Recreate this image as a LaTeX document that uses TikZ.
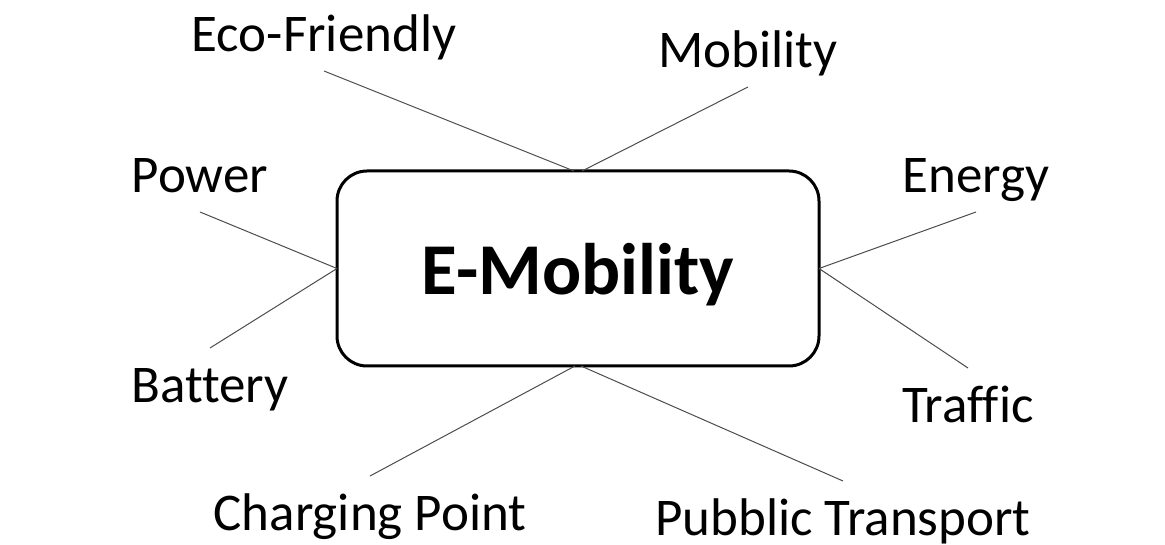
\documentclass[tikz,border=0pt]{standalone}
\usepackage{fontspec}
\setmainfont{Carlito}[RawFeature={-liga;-clig;-dlig}]
\begin{document}
\begin{tikzpicture}[x=1pt, y=-1pt,
  lbl/.style={anchor=base, inner sep=0, outer sep=0, text height=54pt, text depth=19pt, font=\fontsize{53}{53}\selectfont},
  hub/.style={draw, line width=3pt, rounded corners=30pt, minimum width=482pt, minimum height=195pt, outer sep=0, text depth=0pt, font=\fontsize{73}{73}\selectfont\bfseries},
  link/.style={draw, black!70, line width=1pt}]
\useasboundingbox (0,0) rectangle (1165,545);
\node [hub] (z) at (578,268.5) {E-Mobility};
\node [lbl] (a) at (324,52) {Eco-Friendly};
\node [lbl] (b) at (748,68) {Mobility};
\node [lbl] (c) at (200,193) {Power};
\node [lbl] (d) at (976,193) {Energy};
\node [lbl] (e) at (210,402) {Battery};
\node [lbl] (f) at (968,422) {Traffic};
\node [lbl] (g) at (370,530) {Charging Point};
\node [lbl] (h) at (843,535) {Pubblic Transport};
\path [link] (a.south) -- ([xshift=-4pt]z.north);
\path [link] (b.south) -- ([xshift=4pt]z.north);
\path [link] (c.south) -- (z.west);
\path [link] (e.north) -- (z.west);
\path [link] (d.south) -- (z.east);
\path [link] (f.north) -- (z.east);
\path [link] (g.north) -- ([xshift=-3pt]z.south);
\path [link] (h.north) -- ([xshift=3pt]z.south);
\end{tikzpicture}
\end{document}
